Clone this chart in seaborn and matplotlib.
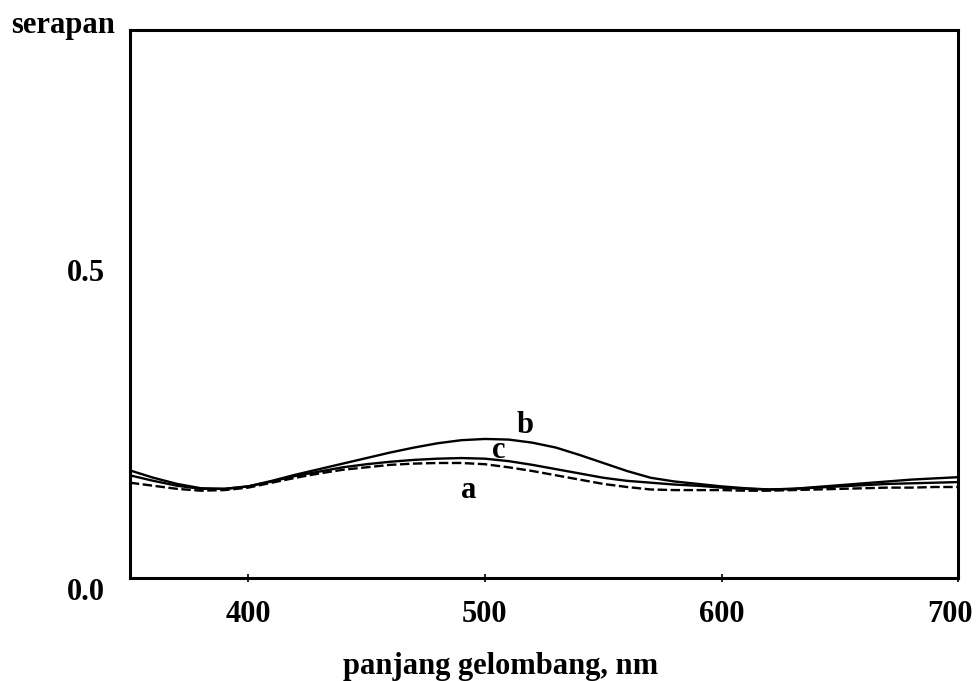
import numpy as np
import pandas as pd
import matplotlib
matplotlib.use("Agg")
import matplotlib.pyplot as plt
from matplotlib.transforms import ScaledTranslation
import seaborn as sns

# panjang gelombang (nm)
wavelength = list(range(350, 701, 10))

# serapan tiap kurva
serapan_a = [0.155, 0.150, 0.145, 0.142, 0.143, 0.147, 0.155, 0.163, 0.170, 0.176,
             0.180, 0.184, 0.186, 0.187, 0.187, 0.185, 0.180, 0.174, 0.167, 0.160,
             0.153, 0.148, 0.144, 0.143, 0.143, 0.143, 0.142, 0.142, 0.143, 0.144,
             0.145, 0.146, 0.147, 0.147, 0.148, 0.148]
serapan_b = [0.175, 0.163, 0.153, 0.146, 0.145, 0.149, 0.158, 0.168, 0.177, 0.186,
             0.195, 0.204, 0.212, 0.219, 0.224, 0.226, 0.225, 0.220, 0.212, 0.200,
             0.187, 0.174, 0.163, 0.157, 0.153, 0.149, 0.146, 0.144, 0.145, 0.148,
             0.151, 0.154, 0.157, 0.160, 0.162, 0.164]
serapan_c = [0.167, 0.158, 0.150, 0.145, 0.145, 0.149, 0.157, 0.166, 0.173, 0.180,
             0.185, 0.189, 0.192, 0.194, 0.195, 0.194, 0.190, 0.184, 0.177, 0.170,
             0.163, 0.158, 0.155, 0.152, 0.150, 0.147, 0.145, 0.144, 0.145, 0.147,
             0.149, 0.151, 0.153, 0.154, 0.155, 0.156]

curve_names = ["a", "b", "c"]
label_pos = {"a": (493, 0.143), "b": (517, 0.248), "c": (506, 0.208)}

x_ticks = [400, 500, 600, 700]
y_ticks = [0.0, 0.5]

df = pd.DataFrame({
    "nm": wavelength * 3,
    "serapan": serapan_a + serapan_b + serapan_c,
    "kurva": ["a"] * len(wavelength) + ["b"] * len(wavelength) + ["c"] * len(wavelength),
})

sns.set_style("ticks")
plt.rcParams["font.family"] = ["Liberation Serif", "DejaVu Serif"]
plt.rcParams["font.weight"] = "bold"
plt.rcParams["text.color"] = "black"
plt.rcParams["axes.labelcolor"] = "black"
plt.rcParams["xtick.color"] = "black"
plt.rcParams["ytick.color"] = "black"

fig = plt.figure(figsize=(9.76, 6.81), dpi=100)
ax = fig.add_axes([0.133, 0.151, 0.849, 0.805])

sns.lineplot(data=df, x="nm", y="serapan", hue="kurva", style="kurva",
             palette={"a": "black", "b": "black", "c": "black"},
             dashes={"a": (4, 1.5), "b": "", "c": ""},
             linewidth=1.7, legend=False, ax=ax)

for name in curve_names:
    x, y = label_pos[name]
    ax.text(x, y, name, fontsize=22, fontweight="bold", ha="center", va="center")

ax.set_xlim(350, 700)
ax.set_ylim(0, 0.89)
ax.set_xticks(x_ticks)
ax.set_yticks(y_ticks)
ax.set_xticklabels([str(t) for t in x_ticks], fontsize=22, fontweight="bold")
ax.set_yticklabels(["0.0", "0.5"], fontsize=22, fontweight="bold")
ax.tick_params(axis="x", direction="inout", length=6, width=1.2, pad=13)
ax.tick_params(axis="y", direction="in", length=0, pad=18)
ax.get_yticklabels()[0].set_verticalalignment("top")

# the last x label sits a bit left of its tick in the original
last = ax.get_xticklabels()[-1]
last.set_transform(last.get_transform() + ScaledTranslation(-0.08, 0, fig.dpi_scale_trans))

for side in ["left", "right", "top", "bottom"]:
    ax.spines[side].set_visible(True)
    ax.spines[side].set_linewidth(2.2)
    ax.spines[side].set_color("black")

ax.set_xlabel("panjang gelombang, nm", fontsize=22, fontweight="bold", color="black")
ax.xaxis.set_label_coords(0.448, -0.135)
ax.set_ylabel("")
fig.text(0.065, 0.962, "serapan", fontsize=22, fontweight="bold", ha="center", va="center")

fig.savefig("out.png", dpi=100, facecolor="white")
